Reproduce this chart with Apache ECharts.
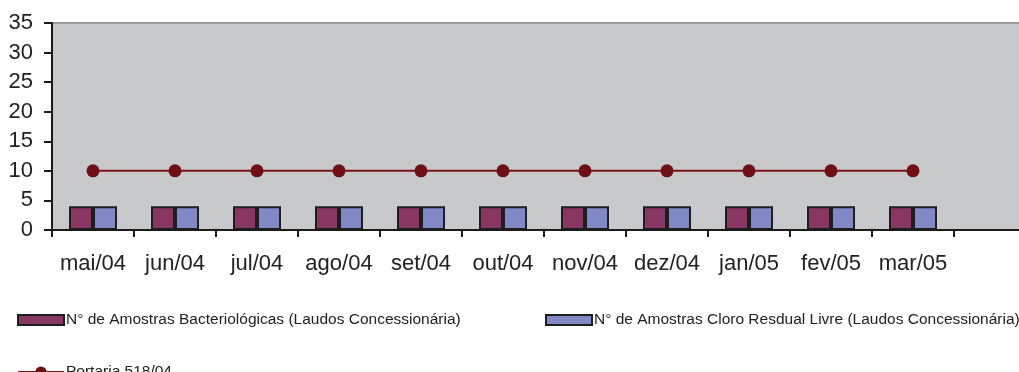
<!DOCTYPE html>
<html>
<head>
<meta charset="utf-8">
<script src="https://cdn.jsdelivr.net/npm/echarts@6/dist/echarts.min.js"></script>
<style>
  html, body { margin: 0; padding: 0; background: #ffffff; overflow: hidden; }
  #chart { width: 1019px; height: 372px; }
</style>
</head>
<body>
<div id="chart"></div>
<script>
// Months shown on the category axis (last slot is left empty)
const categories = ['mai/04', 'jun/04', 'jul/04', 'ago/04', 'set/04', 'out/04', 'nov/04', 'dez/04', 'jan/05', 'fev/05', 'mar/05', ''];

// Monthly sample counts
const amostrasBacteriologicas = [4, 4, 4, 4, 4, 4, 4, 4, 4, 4, 4, null];
const amostrasCloro = [4, 4, 4, 4, 4, 4, 4, 4, 4, 4, 4, null];

// Minimum required by Portaria 518/04
const portaria = [10, 10, 10, 10, 10, 10, 10, 10, 10, 10, 10, null];

const yTicks = { min: 0, max: 35, interval: 5 };

const nameBact = 'N° de Amostras Bacteriológicas (Laudos Concessionária)';
const nameCloro = 'N° de Amostras Cloro Resdual Livre (Laudos Concessionária)';
const namePortaria = 'Portaria 518/04';

const font = 'Liberation Sans, Arial, sans-serif';

const chart = echarts.init(document.getElementById('chart'), null, { renderer: 'canvas' });

const legendBase = {
  orient: 'horizontal',
  itemWidth: 46,
  itemHeight: 10,
  itemGap: 0,
  padding: 0,
  textStyle: { fontFamily: font, fontSize: 15.5, color: '#222', padding: [0, 0, 0, -3] },
  selectedMode: false
};

chart.setOption({
  animation: false,
  grid: {
    left: 52, top: 23, width: 984, height: 207,
    outerBoundsMode: 'none',
    containLabel: false,
    show: true,
    backgroundColor: '#c8c9cb',
    borderColor: '#9d9d9d',
    borderWidth: 2
  },
  legend: [
    Object.assign({}, legendBase, { left: 17, top: 312, data: [{ name: nameBact, icon: 'rect' }] }),
    Object.assign({}, legendBase, { left: 545, top: 312, data: [{ name: nameCloro, icon: 'rect' }] }),
    Object.assign({}, legendBase, { left: 17, top: 364, itemHeight: 14, data: [{ name: namePortaria }] })
  ],
  xAxis: {
    type: 'category',
    data: categories,
    boundaryGap: true,
    axisLine: { lineStyle: { color: '#1a1a1a', width: 2 } },
    axisTick: { show: true, interval: 0, length: 7, alignWithLabel: false, lineStyle: { color: '#1a1a1a', width: 2 } },
    axisLabel: { interval: 0, margin: 23, fontFamily: font, fontSize: 22, color: '#222' },
    splitLine: { show: false }
  },
  yAxis: {
    type: 'value',
    min: yTicks.min,
    max: yTicks.max,
    interval: yTicks.interval,
    axisLine: { show: true, lineStyle: { color: '#1a1a1a', width: 2 } },
    axisTick: { show: true, length: 8, lineStyle: { color: '#1a1a1a', width: 2 } },
    axisLabel: { margin: 19, fontFamily: font, fontSize: 22, color: '#222' },
    splitLine: { show: false }
  },
  series: [
    {
      name: nameBact,
      type: 'bar',
      data: amostrasBacteriologicas,
      barWidth: 24,
      barGap: '0%',
      itemStyle: { color: '#893762', borderColor: '#1e1e1e', borderWidth: 2 }
    },
    {
      name: nameCloro,
      type: 'bar',
      data: amostrasCloro,
      barWidth: 24,
      barGap: '0%',
      itemStyle: { color: '#8088c6', borderColor: '#1e1e1e', borderWidth: 2 }
    },
    {
      name: namePortaria,
      type: 'line',
      data: portaria,
      symbol: 'circle',
      symbolSize: 13,
      lineStyle: { color: '#7b1418', width: 2 },
      itemStyle: { color: '#6e1014' },
      z: 5
    }
  ]
});
</script>
</body>
</html>
